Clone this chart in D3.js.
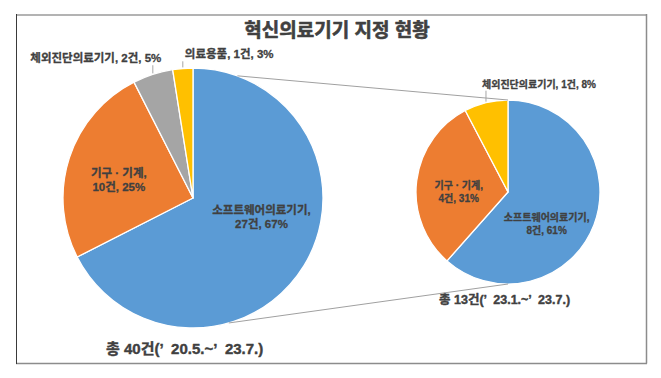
<!DOCTYPE html>
<html><head><meta charset="utf-8">
<script src="https://cdn.jsdelivr.net/npm/d3@7"></script>
<style>body{margin:0;background:#fff} svg{display:block} text{white-space:pre}</style>
</head><body><svg id="c" width="661" height="378"></svg>
<script>
// ---- data ----
const chartTitle = "혁신의료기기 지정 현황";
const leftCategories = ["소프트웨어의료기기", "기구 · 기계", "체외진단의료기기", "의료용품"];
const leftCounts = [27, 10, 2, 1];
const leftPercents = [67, 25, 5, 3];
const rightCategories = ["소프트웨어의료기기", "기구 · 기계", "체외진단의료기기"];
const rightCounts = [8, 4, 1];
const rightPercents = [61, 31, 8];
const leftTotalLabel = "총 40건(’  20.5.~’  23.7.)";
const rightTotalLabel = "총 13건(’  23.1.~’  23.7.)";

// ---- styles / layout ----
const leftColors = ["#5B9BD5", "#ED7D31", "#A5A5A5", "#FFC000"];
const rightColors = ["#5B9BD5", "#ED7D31", "#FFC000"];
const FONT = "'Liberation Sans', Arial, 'Noto Sans CJK KR', sans-serif";
const TEXT = "#404040";

const svg = d3.select("#c");
svg.append("rect").attr("width", 661).attr("height", 378).attr("fill", "#fff");
// frame
const frame = [
  { x1: 16, y1: 15, x2: 646.5, y2: 15, c: "#b3b3b3", w: 2 },
  { x1: 646.5, y1: 14, x2: 646.5, y2: 363.5, c: "#8c8c8c", w: 1.5 },
  { x1: 16, y1: 363.5, x2: 647, y2: 363.5, c: "#8c8c8c", w: 1.5 },
  { x1: 16.5, y1: 14, x2: 16.5, y2: 364, c: "#3a3a3a", w: 1 }
];
svg.selectAll("line.frame").data(frame).join("line").attr("class", "frame")
  .attr("x1", d => d.x1).attr("y1", d => d.y1).attr("x2", d => d.x2).attr("y2", d => d.y2)
  .attr("stroke", d => d.c).attr("stroke-width", d => d.w);

const boldText = (sel, sw) => sel.attr("font-family", FONT).attr("font-weight", "bold").attr("fill", TEXT)
  .attr("stroke", TEXT).attr("stroke-width", sw).attr("paint-order", "stroke").attr("stroke-linejoin", "round");

boldText(svg.append("text").text(chartTitle)
  .attr("x", 337).attr("y", 30).attr("text-anchor", "middle").attr("dominant-baseline", "central")
  .attr("font-size", 19), 0.6);

const pies = [
  { cx: 193, cy: 198, r: 130, cats: leftCategories, counts: leftCounts, pcts: leftPercents, colors: leftColors,
    fs: 11.5, lh: 14,
    place: [ {inside: [2, -22]}, {inside: [0, 6]}, {out: [-57, -16], anchor: "middle"}, {out: [2, -14], anchor: "start"} ],
    total: leftTotalLabel, totalFs: 15, totalPos: [106, 348] },
  { cx: 508, cy: 192, r: 92, cats: rightCategories, counts: rightCounts, pcts: rightPercents, colors: rightColors,
    fs: 10, lh: 13,
    place: [ {inside: [-13, 12]}, {inside: [5.5, 7]}, {out: [-4, -18], anchor: "start"} ],
    total: rightTotalLabel, totalFs: 12.5, totalPos: [439, 300] }
];

const connAngles = [20, 164];
const L = pies[0], R = pies[1];
const pt = (p, deg, rr) => [p.cx + rr * Math.sin(deg * Math.PI / 180), p.cy - rr * Math.cos(deg * Math.PI / 180)];

pies.forEach(p => {
  const pie = d3.pie().sort(null).value(d => d)(p.counts);
  const arc = d3.arc().innerRadius(0).outerRadius(p.r);
  const g = svg.append("g").attr("transform", `translate(${p.cx},${p.cy})`);
  g.selectAll("path").data(pie).join("path")
    .attr("d", arc).attr("fill", (d, i) => p.colors[i])
    .attr("stroke", "#fff").attr("stroke-width", 1.3).attr("stroke-linejoin", "round");

  const labelArc = d3.arc().innerRadius(p.r * 0.6).outerRadius(p.r * 0.6);
  pie.forEach((d, i) => {
    const pl = p.place[i];
    const name = p.cats[i], cnt = p.counts[i] + "건", pc = p.pcts[i] + "%";
    if (pl.inside) {
      const c = labelArc.centroid(d);
      const x = c[0] + pl.inside[0], y = c[1] + pl.inside[1];
      const t = boldText(g.append("text").attr("text-anchor", "middle").attr("font-size", p.fs), 0.3);
      t.append("tspan").attr("x", x).attr("y", y - p.lh / 2).attr("dominant-baseline", "central").text(name + ",");
      t.append("tspan").attr("x", x).attr("y", y + p.lh / 2).attr("dominant-baseline", "central").text(cnt + ", " + pc);
    } else {
      const mid = (d.startAngle + d.endAngle) / 2;
      const ox = p.r * Math.sin(mid), oy = -p.r * Math.cos(mid);
      const lx = ox + pl.out[0], ly = oy + pl.out[1];
      g.append("line").attr("x1", ox).attr("y1", oy - 1).attr("x2", ox).attr("y2", ly + p.fs * 0.6)
        .attr("stroke", "#a6a6a6").attr("stroke-width", 1);
      boldText(g.append("text").text(name + ", " + cnt + ", " + pc)
        .attr("x", lx).attr("y", ly).attr("text-anchor", pl.anchor).attr("dominant-baseline", "central")
        .attr("font-size", p.fs), 0.3);
    }
  });

  boldText(svg.append("text").text(p.total)
    .attr("x", p.totalPos[0]).attr("y", p.totalPos[1]).attr("dominant-baseline", "central")
    .attr("font-size", p.totalFs), 0.4);
});

const conn = [[pt(L, connAngles[0], L.r), pt(R, 0, R.r)], [pt(L, connAngles[1], L.r), pt(R, 180, R.r)]];
svg.selectAll("line.conn").data(conn).join("line").attr("class", "conn")
  .attr("x1", d => d[0][0]).attr("y1", d => d[0][1]).attr("x2", d => d[1][0]).attr("y2", d => d[1][1])
  .attr("stroke", "#a0a0a0").attr("stroke-width", 1);
</script>
</body></html>
